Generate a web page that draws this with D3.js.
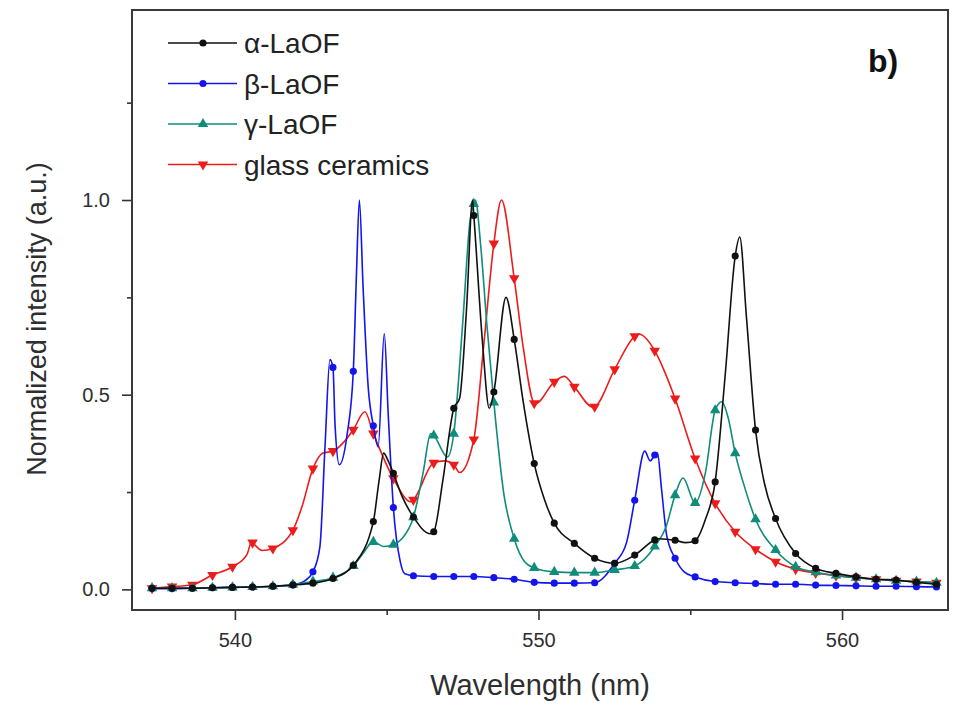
<!DOCTYPE html>
<html>
<head>
<meta charset="utf-8">
<script src="https://cdn.jsdelivr.net/npm/d3@7"></script>
<style>
  body { margin: 0; background: #fff; }
  svg text { font-family: "Liberation Sans", Arial, Helvetica, sans-serif; }
</style>
</head>
<body>
<svg id="chart" width="961" height="706"></svg>
<script>
// Wavelengths (nm) at which every spectrum carries a symbol
const markerWavelengths = [
  537.27, 537.93, 538.60, 539.26, 539.92, 540.58, 541.25, 541.91, 542.57, 543.23,
  543.90, 544.56, 545.22, 545.88, 546.55, 547.21, 547.87, 548.53, 549.20, 549.86,
  550.52, 551.18, 551.85, 552.51, 553.17, 553.83, 554.50, 555.16, 555.82, 556.48,
  557.15, 557.81, 558.47, 559.13, 559.80, 560.46, 561.12, 561.78, 562.45, 563.11
];

// Normalized intensity at the symbol wavelengths
const alphaMarks = [
  0.003, 0.003, 0.003, 0.004, 0.005, 0.006, 0.008, 0.011, 0.016, 0.028,
  0.062, 0.174, 0.298, 0.186, 0.148, 0.465, 0.960, 0.507, 0.642, 0.323,
  0.170, 0.118, 0.080, 0.067, 0.088, 0.127, 0.126, 0.125, 0.276, 0.856,
  0.409, 0.182, 0.092, 0.054, 0.041, 0.032, 0.026, 0.024, 0.018, 0.013
];
const betaMarks = [
  0.002, 0.002, 0.003, 0.004, 0.005, 0.006, 0.008, 0.012, 0.045, 0.570,
  0.560, 0.420, 0.210, 0.035, 0.033, 0.033, 0.033, 0.030, 0.026, 0.018,
  0.016, 0.016, 0.017, 0.067, 0.229, 0.345, 0.080, 0.032, 0.020, 0.017,
  0.015, 0.013, 0.013, 0.011, 0.010, 0.009, 0.008, 0.008, 0.007, 0.006
];
const gammaMarks = [
  0.003, 0.003, 0.003, 0.004, 0.005, 0.006, 0.008, 0.012, 0.020, 0.030,
  0.060, 0.122, 0.115, 0.185, 0.395, 0.400, 0.990, 0.480, 0.130, 0.055,
  0.045, 0.043, 0.043, 0.050, 0.060, 0.110, 0.242, 0.222, 0.460, 0.350,
  0.180, 0.101, 0.058, 0.044, 0.036, 0.030, 0.026, 0.022, 0.020, 0.017
];
const glassMarks = [
  0.003, 0.007, 0.012, 0.037, 0.058, 0.120, 0.105, 0.152, 0.310, 0.355,
  0.410, 0.400, 0.285, 0.230, 0.325, 0.320, 0.385, 0.888, 0.799, 0.478,
  0.533, 0.520, 0.469, 0.565, 0.650, 0.613, 0.490, 0.336, 0.221, 0.148,
  0.103, 0.071, 0.052, 0.042, 0.035, 0.030, 0.026, 0.022, 0.020, 0.017
];

// Additional points between symbols: peak tops, dips and steep flanks [nm, intensity]
const alphaExtra = [
  [544.75, 0.28], [544.90, 0.35], [545.05, 0.33], [545.50, 0.24], [546.42, 0.143],
  [546.85, 0.28], [547.40, 0.49], [547.63, 0.72], [547.83, 1.00], [548.15, 0.64],
  [548.38, 0.465], [548.93, 0.75], [549.50, 0.48], [550.20, 0.23], [553.95, 0.13],
  [554.85, 0.12], [555.50, 0.18], [556.15, 0.55], [556.63, 0.905], [556.85, 0.70],
  [557.45, 0.27]
];
const betaExtra = [
  [542.30, 0.022], [542.80, 0.11], [542.97, 0.37], [543.13, 0.59], [543.30, 0.42],
  [543.44, 0.32], [543.70, 0.40], [544.00, 0.80], [544.10, 1.00], [544.22, 0.78],
  [544.39, 0.52], [544.72, 0.366], [544.92, 0.657], [545.05, 0.45], [545.45, 0.07],
  [545.60, 0.04], [552.90, 0.12], [553.50, 0.355], [553.68, 0.33], [553.92, 0.35],
  [554.05, 0.26], [554.22, 0.14], [554.80, 0.045]
];
const gammaExtra = [
  [544.20, 0.09], [544.90, 0.11], [545.50, 0.13], [546.20, 0.30], [546.45, 0.40],
  [547.00, 0.34], [547.50, 0.68], [547.75, 0.95], [547.92, 1.00], [548.10, 0.88],
  [548.30, 0.68], [548.85, 0.25], [549.55, 0.07], [554.20, 0.16], [554.76, 0.286],
  [555.50, 0.30], [556.04, 0.482], [556.25, 0.44], [556.80, 0.26]
];
const glassExtra = [
  [540.40, 0.09], [540.55, 0.122], [540.90, 0.10], [542.20, 0.21], [542.90, 0.35],
  [543.55, 0.375], [544.28, 0.456], [545.80, 0.225], [546.90, 0.33], [547.40, 0.30],
  [548.20, 0.63], [548.78, 1.00], [549.50, 0.62], [549.90, 0.477], [550.85, 0.547],
  [551.80, 0.468], [553.30, 0.656], [554.15, 0.56]
];

const seriesNames = ["α-LaOF", "β-LaOF", "γ-LaOF", "glass ceramics"];
const xTicks = [540, 550, 560];
const xMinorTicks = [545, 555];
const yTicks = [0.0, 0.5, 1.0];
const yMinorTicks = [0.25, 0.75, 1.25];

const series = [
  { name: seriesNames[3], marks: glassMarks, extra: glassExtra, color: "#ec1c1c", symbol: "down" },
  { name: seriesNames[1], marks: betaMarks,  extra: betaExtra,  color: "#1414ec", symbol: "circle" },
  { name: seriesNames[2], marks: gammaMarks, extra: gammaExtra, color: "#0f8c7a", symbol: "up" },
  { name: seriesNames[0], marks: alphaMarks, extra: alphaExtra, color: "#111111", symbol: "circle" }
];

const svg = d3.select("#chart");
const plot = { left: 132, right: 948, top: 10, bottom: 610 };

const x = d3.scaleLinear().domain([536.61, 563.49]).range([plot.left, plot.right]);
const y = d3.scaleLinear().domain([-0.053, 1.488]).range([plot.bottom, plot.top]);

svg.append("defs").append("clipPath").attr("id", "plotClip")
  .append("rect")
  .attr("x", plot.left).attr("y", plot.top)
  .attr("width", plot.right - plot.left).attr("height", plot.bottom - plot.top);

const textColor = "#2e2e2e";

// x axis
const xAxis = svg.append("g")
  .attr("transform", `translate(0,${plot.bottom})`)
  .call(d3.axisBottom(x).tickValues(xTicks).tickFormat(d3.format("d")).tickSize(10).tickPadding(13));
svg.append("g")
  .attr("transform", `translate(0,${plot.bottom})`)
  .call(d3.axisBottom(x).tickValues(xMinorTicks).tickFormat("").tickSize(5));

// y axis
const yAxis = svg.append("g")
  .attr("transform", `translate(${plot.left},0)`)
  .call(d3.axisLeft(y).tickValues(yTicks).tickFormat(d3.format(".1f")).tickSize(10).tickPadding(12));
svg.append("g")
  .attr("transform", `translate(${plot.left},0)`)
  .call(d3.axisLeft(y).tickValues(yMinorTicks).tickFormat("").tickSize(5));

svg.selectAll(".domain").remove();
svg.selectAll(".tick line").attr("stroke", "#333").attr("stroke-width", 1.6);
svg.selectAll(".tick text").attr("fill", textColor).style("font-size", "20px");

// spectra
const line = d3.line()
  .x(d => x(d[0]))
  .y(d => y(d[1]))
  .curve(d3.curveMonotoneX);

const symbolPath = (kind) => {
  if (kind === "circle") return d3.symbol().type(d3.symbolCircle).size(40)();
  return d3.symbol().type(d3.symbolTriangle).size(48)();
};

const layer = svg.append("g").attr("clip-path", "url(#plotClip)");

series.forEach(s => {
  const markPts = markerWavelengths.map((w, i) => [w, s.marks[i]]);
  const pts = markPts.concat(s.extra).sort((a, b) => a[0] - b[0]);
  const g = layer.append("g");
  g.append("path")
    .datum(pts)
    .attr("fill", "none")
    .attr("stroke", s.color)
    .attr("stroke-width", 1.6)
    .attr("stroke-linejoin", "round")
    .attr("d", line);
  g.selectAll("path.mk")
    .data(markPts)
    .join("path")
    .attr("class", "mk")
    .attr("d", symbolPath(s.symbol))
    .attr("fill", s.color)
    .attr("transform", d => `translate(${x(d[0])},${y(d[1])})${s.symbol === "down" ? " rotate(180)" : ""}`);
});

// frame
svg.append("rect")
  .attr("x", plot.left).attr("y", plot.top)
  .attr("width", plot.right - plot.left).attr("height", plot.bottom - plot.top)
  .attr("fill", "none").attr("stroke", "#3a3a3a").attr("stroke-width", 2);

// legend
const legendRows = [
  { name: seriesNames[0], color: "#111111", symbol: "circle" },
  { name: seriesNames[1], color: "#1414ec", symbol: "circle" },
  { name: seriesNames[2], color: "#0f8c7a", symbol: "up" },
  { name: seriesNames[3], color: "#ec1c1c", symbol: "down" }
];
const legend = svg.append("g");
legendRows.forEach((r, i) => {
  const yy = 43 + i * 40.5;
  legend.append("line")
    .attr("x1", 168).attr("x2", 237).attr("y1", yy).attr("y2", yy)
    .attr("stroke", r.color).attr("stroke-width", 1.6);
  legend.append("path")
    .attr("d", symbolPath(r.symbol))
    .attr("fill", r.color)
    .attr("transform", `translate(203,${yy})${r.symbol === "down" ? " rotate(180)" : ""}`);
  legend.append("text")
    .attr("x", 244).attr("y", yy).attr("dy", "0.36em")
    .attr("fill", "#222")
    .style("font-size", "28px")
    .text(r.name);
});

// panel label
svg.append("text")
  .attr("x", 868).attr("y", 72)
  .attr("fill", "#111")
  .style("font-size", "32px").style("font-weight", "bold")
  .text("b)");

// axis titles
svg.append("text")
  .attr("x", 540).attr("y", 695)
  .attr("text-anchor", "middle")
  .attr("fill", textColor)
  .style("font-size", "29px")
  .text("Wavelength (nm)");

svg.append("text")
  .attr("transform", "translate(46,319) rotate(-90)")
  .attr("text-anchor", "middle")
  .attr("fill", textColor)
  .style("font-size", "27px")
  .text("Normalized intensity (a.u.)");
</script>
</body>
</html>
